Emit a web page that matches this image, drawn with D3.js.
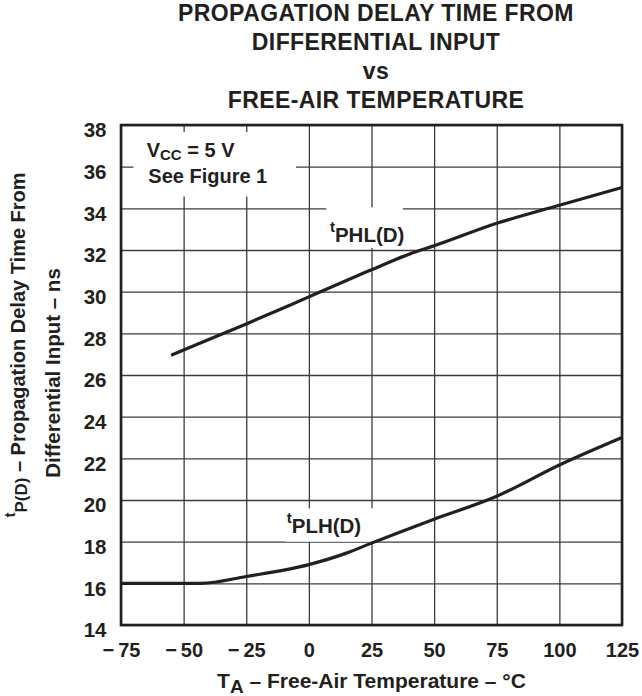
<!DOCTYPE html>
<html>
<head>
<meta charset="utf-8">
<script src="https://cdn.jsdelivr.net/npm/d3@7/dist/d3.min.js"></script>
<style>
  body { margin: 0; background: #fff; }
  svg { display: block; font-family: "Liberation Sans", Arial, Helvetica, sans-serif; font-weight: bold; }
  .grid line { stroke: #3c3c3c; stroke-width: 1.3; }
  .grid path { display: none; }
  .tick-lbl text { fill: #231f20; }
</style>
</head>
<body>
<div class="chart"></div>
<script>
// chart data
var xTicks = [-75, -50, -25, 0, 25, 50, 75, 100, 125];
var yTicks = [14, 16, 18, 20, 22, 24, 26, 28, 30, 32, 34, 36, 38];

var phlTemp = [-55, -50, -25, 0, 25, 40, 50, 75, 100, 125];
var phlDelay = [26.95, 27.2, 28.45, 29.75, 31.05, 31.8, 32.2, 33.28, 34.15, 35.0];

var plhTemp = [-75, -43, -25, 0, 15, 25, 50, 75, 100, 125];
var plhDelay = [16, 16, 16.33, 16.9, 17.45, 17.93, 19.08, 20.18, 21.68, 23.0];

var titleLines = ["PROPAGATION DELAY TIME FROM", "DIFFERENTIAL INPUT", "vs", "FREE-AIR TEMPERATURE"];

var svgWidth = 642;
var svgHeight = 696;
var margin = { top: 125, right: 20, bottom: 71, left: 121 };
var width = svgWidth - margin.left - margin.right;
var height = svgHeight - margin.top - margin.bottom;
var ink = "#231f20";

var svg = d3
    .select(".chart")
    .append("svg")
    .attr("width", svgWidth)
    .attr("height", svgHeight);

var chart = svg.append("g")
    .attr("transform", "translate(" + margin.left + "," + margin.top + ")");

var xScale = d3.scaleLinear().domain([-75, 125]).range([0, width]);
var yScale = d3.scaleLinear().domain([14, 38]).range([height, 0]);

// grid lines
chart.append("g")
    .attr("class", "grid")
    .attr("transform", "translate(0," + height + ")")
    .call(d3.axisBottom(xScale).tickValues(xTicks).tickSize(-height).tickFormat(""));

chart.append("g")
    .attr("class", "grid")
    .call(d3.axisLeft(yScale).tickValues(yTicks).tickSize(-width).tickFormat(""));

// white boxes behind the annotations (they hide the grid)
function whiteBox(x0, y0, x1, y1) {
    chart.append("rect")
        .attr("x", x0).attr("y", y0)
        .attr("width", x1 - x0).attr("height", y1 - y0)
        .attr("fill", "#fff");
}
whiteBox(12.5, 7, 175, 71.5);
whiteBox(xScale(-9.6), yScale(19.6), xScale(26.5), yScale(18.0));
whiteBox(xScale(7), yScale(34.05), xScale(37.5), yScale(32.1));

// frame
chart.append("rect")
    .attr("width", width)
    .attr("height", height)
    .attr("fill", "none")
    .attr("stroke", ink)
    .attr("stroke-width", 2.6);

// curves
var line = d3.line()
    .x(function (d) { return xScale(d[0]); })
    .y(function (d) { return yScale(d[1]); })
    .curve(d3.curveMonotoneX);

chart.append("path")
    .datum(d3.zip(phlTemp, phlDelay))
    .attr("d", line)
    .attr("fill", "none")
    .attr("stroke", ink)
    .attr("stroke-width", 3.2);

chart.append("path")
    .datum(d3.zip(plhTemp, plhDelay))
    .attr("d", line)
    .attr("fill", "none")
    .attr("stroke", ink)
    .attr("stroke-width", 3.2);

// tick labels
var xAxis = chart.append("g")
    .attr("class", "tick-lbl")
    .attr("transform", "translate(0," + height + ")")
    .call(d3.axisBottom(xScale).tickValues(xTicks).tickSize(0)
        .tickFormat(function (d) { return d < 0 ? "\u2212\u2009" + Math.abs(d) : d; }));
xAxis.select(".domain").remove();
xAxis.selectAll("text")
    .attr("y", 31.7)
    .attr("dy", null)
    .style("font-size", "20px")
    .style("font-weight", "bold");

var yAxis = chart.append("g")
    .attr("class", "tick-lbl")
    .call(d3.axisLeft(yScale).tickValues(yTicks).tickSize(0));
yAxis.select(".domain").remove();
yAxis.selectAll("text")
    .attr("x", -14.5)
    .attr("dy", null)
    .attr("y", 11.8)
    .style("font-size", "20.5px")
    .style("font-weight", "bold");

// annotations
var note = chart.append("text").attr("fill", ink).style("font-size", "20px")
    .attr("x", 25.7).attr("y", 31.7);
note.append("tspan").text("V");
note.append("tspan").attr("dy", 3.3).style("font-size", "15px").text("CC");
note.append("tspan").attr("dy", -3.3).text(" = 5 V");
chart.append("text").attr("fill", ink).style("font-size", "20px")
    .attr("x", 27.3).attr("y", 58.3).text("See Figure 1");

function curveLabel(temp, ns, name) {
    var t = chart.append("text").attr("fill", ink)
        .attr("x", xScale(temp)).attr("y", yScale(ns));
    t.append("tspan").attr("dy", -10).style("font-size", "15px").text("t");
    t.append("tspan").attr("dy", 10).style("font-size", "20.5px").text(name);
}
curveLabel(8.4, 32.4, "PHL(D)");
curveLabel(-8.85, 18.4, "PLH(D)");

// title
svg.selectAll(".title")
    .data(titleLines)
    .enter()
    .append("text")
    .attr("class", "title")
    .attr("x", 376)
    .attr("y", function (d, i) { return 20.5 + i * 29; })
    .attr("text-anchor", "middle")
    .attr("fill", ink)
    .style("font-size", "23px")
    .style("letter-spacing", "0.4px")
    .text(function (d) { return d; });

// x-axis title
var xTitle = svg.append("text")
    .attr("x", 371.5).attr("y", 688)
    .attr("text-anchor", "middle")
    .attr("fill", ink)
    .style("font-size", "21px");
xTitle.append("tspan").text("T");
xTitle.append("tspan").attr("dy", 5).style("font-size", "19px").text("A");
xTitle.append("tspan").attr("dy", -5).text(" \u2013 Free-Air Temperature \u2013 \u00B0C");

// y-axis title, two lines
var yTitle1 = svg.append("text")
    .attr("transform", "translate(25,345) rotate(-90)")
    .attr("text-anchor", "middle")
    .attr("fill", ink)
    .style("font-size", "20px");
yTitle1.append("tspan").attr("dy", -10).style("font-size", "15px").text("t");
yTitle1.append("tspan").attr("dy", 11.5).style("font-size", "17px").text("P(D)");
yTitle1.append("tspan").attr("dy", -1.5).text(" \u2013 Propagation Delay Time From");

svg.append("text")
    .attr("transform", "translate(60,373) rotate(-90)")
    .attr("text-anchor", "middle")
    .attr("fill", ink)
    .style("font-size", "20.5px")
    .text("Differential Input \u2013 ns");
</script>
</body>
</html>
